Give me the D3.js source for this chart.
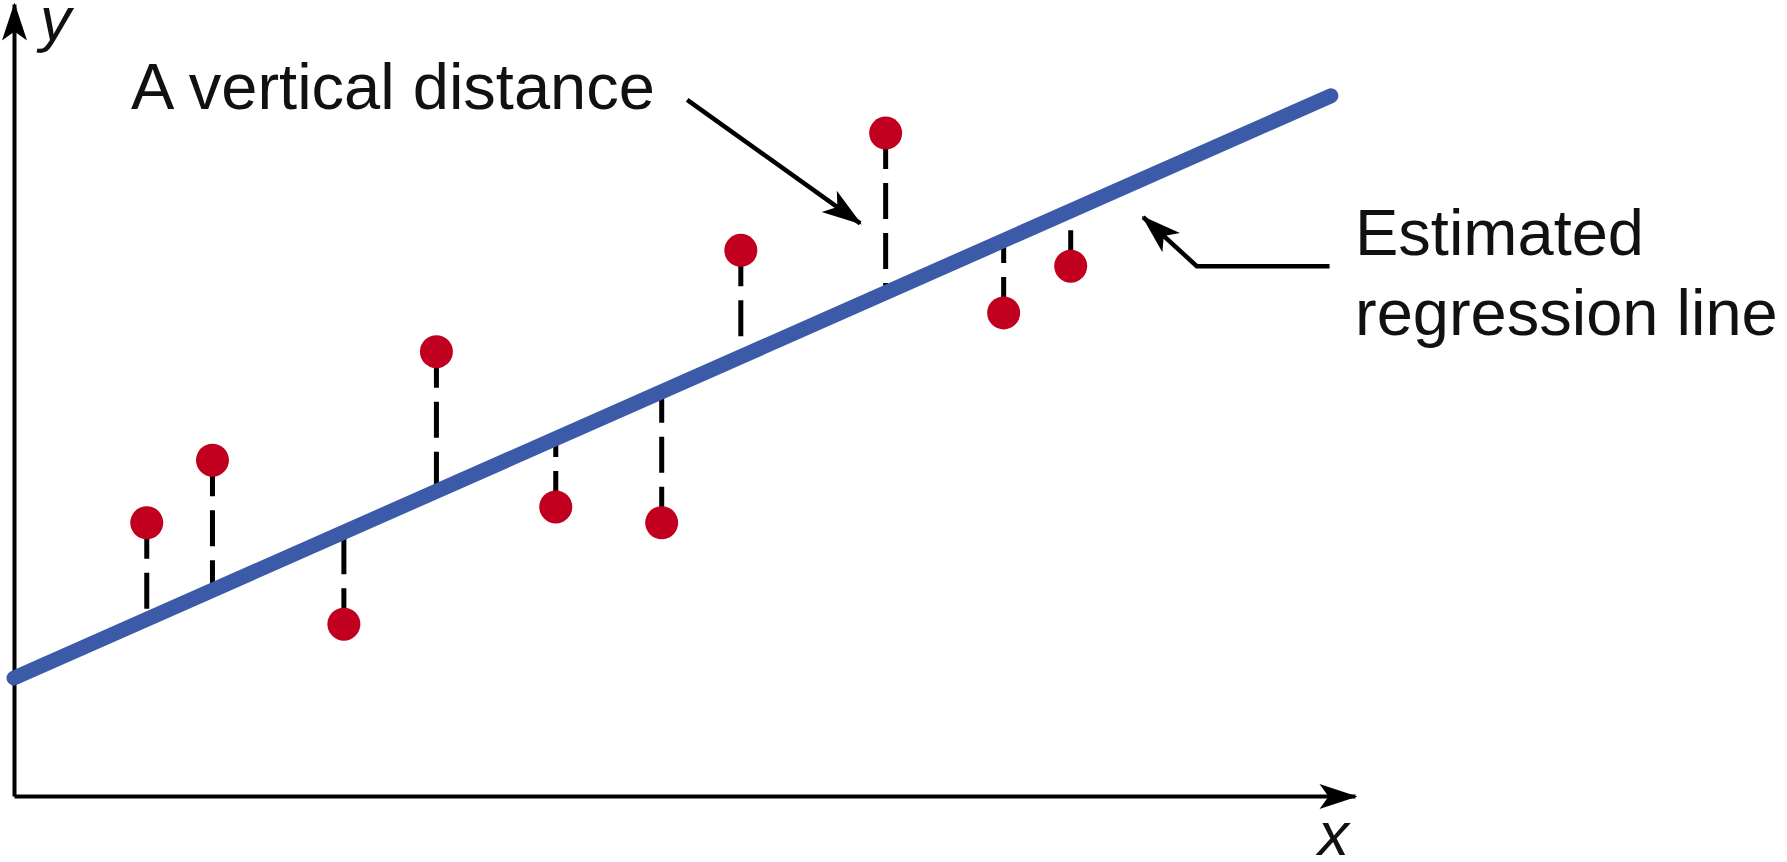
<!DOCTYPE html>
<html>
<head>
<meta charset="utf-8">
<script src="https://cdn.jsdelivr.net/npm/d3@7"></script>
<style>
  html, body { margin: 0; padding: 0; background: #fff; }
  svg { display: block; }
  text { font-family: "Liberation Sans", Arial, sans-serif; fill: #111; }
</style>
</head>
<body>
<svg id="chart" width="1787" height="862"></svg>
<script>
// ---- data (arbitrary units) ----
const pointX = [9.9, 14.8, 24.6, 31.5, 40.4, 48.3, 54.2, 65.0, 73.8, 78.8];
const pointY = [34.5, 42.4, 21.7, 56.1, 36.5, 34.5, 68.9, 83.7, 61.0, 66.9];
const lineIntercept = 14.9;
const lineSlope = 0.7485;
const lineXRange = [0, 98.2];
const axisLabels = ["x", "y"];
const annotationText = ["A vertical distance", "Estimated", "regression line"];
// annotation arrow paths (data units)
const arrowVertical = [[50.2, 87.9], [63.1, 72.3]];
const arrowEstimated = [[98.1, 66.9], [88.2, 66.9], [84.2, 73.1]];

// ---- layout ----
const svg = d3.select("#chart");
const x = d3.scaleLinear().domain([0, 100]).range([14, 1355]);
const y = d3.scaleLinear().domain([0, 100]).range([796, 4]);

const defs = svg.append("defs");
function addMarker(id, len, half, notch) {
  defs.append("marker")
    .attr("id", id)
    .attr("markerUnits", "userSpaceOnUse")
    .attr("viewBox", "-50 -20 54 40")
    .attr("markerWidth", 54).attr("markerHeight", 40)
    .attr("refX", -2).attr("refY", 0)
    .attr("orient", "auto")
    .append("path")
    .attr("d", `M0,0 L${-len},${-half} L${-notch},0 L${-len},${half} Z`)
    .attr("fill", "#000");
}
addMarker("arrow", 38, 12.5, 29);
addMarker("arrowSmall", 40, 13, 30);

// axes (no ticks)
const gx = svg.append("g").attr("transform", `translate(0,${y(0)})`)
  .call(d3.axisBottom(x).ticks(0).tickSizeOuter(0));
gx.select(".domain").attr("stroke", "#000").attr("stroke-width", 4)
  .attr("marker-end", "url(#arrow)");
const gy = svg.append("g").attr("transform", `translate(${x(0)},0)`)
  .call(d3.axisLeft(y).ticks(0).tickSizeOuter(0));
gy.select(".domain").attr("stroke", "#000").attr("stroke-width", 4)
  .attr("marker-end", "url(#arrow)");

// axis labels
svg.append("text").text(axisLabels[0])
  .attr("x", 1318).attr("y", 855)
  .attr("font-size", 62).attr("font-style", "italic");
svg.append("text").text(axisLabels[1])
  .attr("x", 40).attr("y", 40)
  .attr("font-size", 62).attr("font-style", "italic");

const fit = v => lineIntercept + lineSlope * v;
const pts = pointX.map((v, i) => ({ x: v, y: pointY[i] }));

// residual dashes (from point to the line)
svg.append("g").selectAll("line").data(pts).join("line")
  .attr("x1", d => x(d.x)).attr("y1", d => y(d.y))
  .attr("x2", d => x(d.x)).attr("y2", d => y(fit(d.x)))
  .attr("stroke", "#000").attr("stroke-width", 5)
  .attr("stroke-dasharray", "36 14");

// regression line
svg.append("path")
  .datum(lineXRange.map(v => [v, fit(v)]))
  .attr("d", d3.line().x(d => x(d[0])).y(d => y(d[1])))
  .attr("fill", "none").attr("stroke", "#3b5ba8")
  .attr("stroke-width", 15).attr("stroke-linecap", "round");

// points
svg.append("g").selectAll("circle").data(pts).join("circle")
  .attr("cx", d => x(d.x)).attr("cy", d => y(d.y))
  .attr("r", 16.5).attr("fill", "#c1001f");

// annotations
const ln = d3.line().x(d => x(d[0])).y(d => y(d[1]));
svg.append("path").datum(arrowVertical).attr("d", ln)
  .attr("fill", "none").attr("stroke", "#000").attr("stroke-width", 4.5)
  .attr("marker-end", "url(#arrowSmall)");
svg.append("path").datum(arrowEstimated).attr("d", ln)
  .attr("fill", "none").attr("stroke", "#000").attr("stroke-width", 4.5)
  .attr("stroke-linejoin", "miter")
  .attr("marker-end", "url(#arrowSmall)");

svg.append("text").text(annotationText[0])
  .attr("x", 131).attr("y", 109).attr("font-size", 65);
svg.append("text").text(annotationText[1])
  .attr("x", 1355).attr("y", 255).attr("font-size", 65);
svg.append("text").text(annotationText[2])
  .attr("x", 1355).attr("y", 335).attr("font-size", 65);
</script>
</body>
</html>
